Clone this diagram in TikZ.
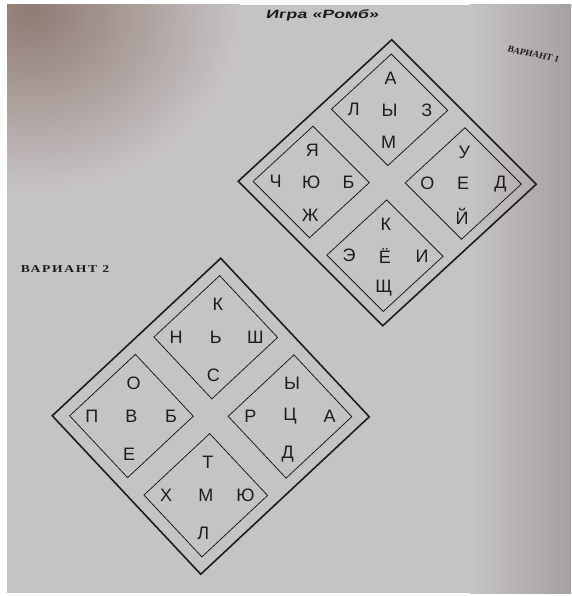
\documentclass[tikz,border=0pt]{standalone}
\usepackage{fontspec}
\setmainfont{Liberation Serif}
\setsansfont{Liberation Sans}
\definecolor{pagegray}{RGB}{198,195,196}
\definecolor{pagebrown}{RGB}{145,122,115}
\definecolor{pageshadow}{RGB}{165,161,162}
\definecolor{inkgray}{RGB}{30,28,30}

\begin{document}
\begin{tikzpicture}[x=1pt, y=-1pt,
    outer/.style={draw=inkgray, line width=1.6pt},
    inner/.style={draw=inkgray, line width=0.8pt},
    letter/.style={font=\sffamily\fontsize{18}{18}\selectfont, text=inkgray, inner sep=0pt},
    heading/.style={font=\sffamily\bfseries\fontsize{12}{12}\selectfont\addfontfeatures{FakeSlant=0.12}, text=inkgray, inner sep=0pt, xscale=1.5},
    variant/.style={font=\bfseries\fontsize{10.5}{10.5}\selectfont\addfontfeatures{LetterSpace=12}, text=inkgray, inner sep=0pt, xscale=1.3}]

  % page
  \useasboundingbox (0,0) rectangle (571,596);
  \fill[white] (0,0) rectangle (571,596);
  \begin{scope}
    \clip (7,5) rectangle (571,593);
    \fill[pagegray] (7,5) rectangle (571,593);
    \shade[left color=pagegray, right color=pageshadow] (470,5) rectangle (571,593);
    \shade[inner color=pagebrown, outer color=pagegray] (-180,-170) rectangle (240,190);

    \node[heading] (title) at (322,15) {Игра «Ромб»};
    \node[variant, anchor=west, rotate=-15, xscale=0.8, font=\bfseries\fontsize{9}{9}\selectfont] (var1) at (508,49) {ВАРИАНТ 1};
    \node[variant] (var2) at (65,269) {ВАРИАНТ 2};
  \end{scope}

  % variant 1
  \begin{scope}[shift={(387.25,182.75)}, x={(149pt,-1.5pt)}, y={(4.5pt,143pt)}]
    \draw[outer] (0,1) -- (1,0) -- (0,-1) -- (-1,0) -- cycle;
    \foreach \cx/\cy/\n/\ltop/\lleft/\lmid/\lright/\lbot in
        {0/0.51/a/А/Л/Ы/З/М, -0.51/0/b/Я/Ч/Ю/Б/Ж, 0.51/0/c/У/О/Е/Д/Й, 0/-0.51/d/К/Э/Ё/И/Щ}{
      \draw[inner] ({\cx},{\cy+0.39}) -- ({\cx+0.39},{\cy}) -- ({\cx},{\cy-0.39}) -- ({\cx-0.39},{\cy}) -- cycle;
      \node[letter] (r1\n-t) at ({\cx},{\cy+0.22}) {\ltop};
      \node[letter] (r1\n-l) at ({\cx-0.24},{\cy}) {\lleft};
      \node[letter] (r1\n-m) at ({\cx},{\cy}) {\lmid};
      \node[letter] (r1\n-r) at ({\cx+0.25},{\cy}) {\lright};
      \node[letter] (r1\n-b) at ({\cx},{\cy-0.23}) {\lbot};
    }
  \end{scope}

  % variant 2
  \begin{scope}[shift={(210.75,416.25)}, x={(158.5pt,-0.5pt)}, y={(10pt,158pt)}]
    \draw[outer] (0,1) -- (1,0) -- (0,-1) -- (-1,0) -- cycle;
    \foreach \cx/\cy/\n/\ltop/\lleft/\lmid/\lright/\lbot in
        {0/0.5/a/К/Н/Ь/Ш/С, -0.5/0/b/О/П/В/Б/Е, 0.5/0/c/Ы/Р/Ц/А/Д, 0/-0.5/d/Т/Х/М/Ю/Л}{
      \draw[inner] ({\cx},{\cy+0.39}) -- ({\cx+0.39},{\cy}) -- ({\cx},{\cy-0.39}) -- ({\cx-0.39},{\cy}) -- cycle;
      \node[letter] (r2\n-t) at ({\cx},{\cy+0.21}) {\ltop};
      \node[letter] (r2\n-l) at ({\cx-0.25},{\cy}) {\lleft};
      \node[letter] (r2\n-m) at ({\cx},{\cy}) {\lmid};
      \node[letter] (r2\n-r) at ({\cx+0.25},{\cy}) {\lright};
      \node[letter] (r2\n-b) at ({\cx},{\cy-0.24}) {\lbot};
    }
  \end{scope}
\end{tikzpicture}
\end{document}
